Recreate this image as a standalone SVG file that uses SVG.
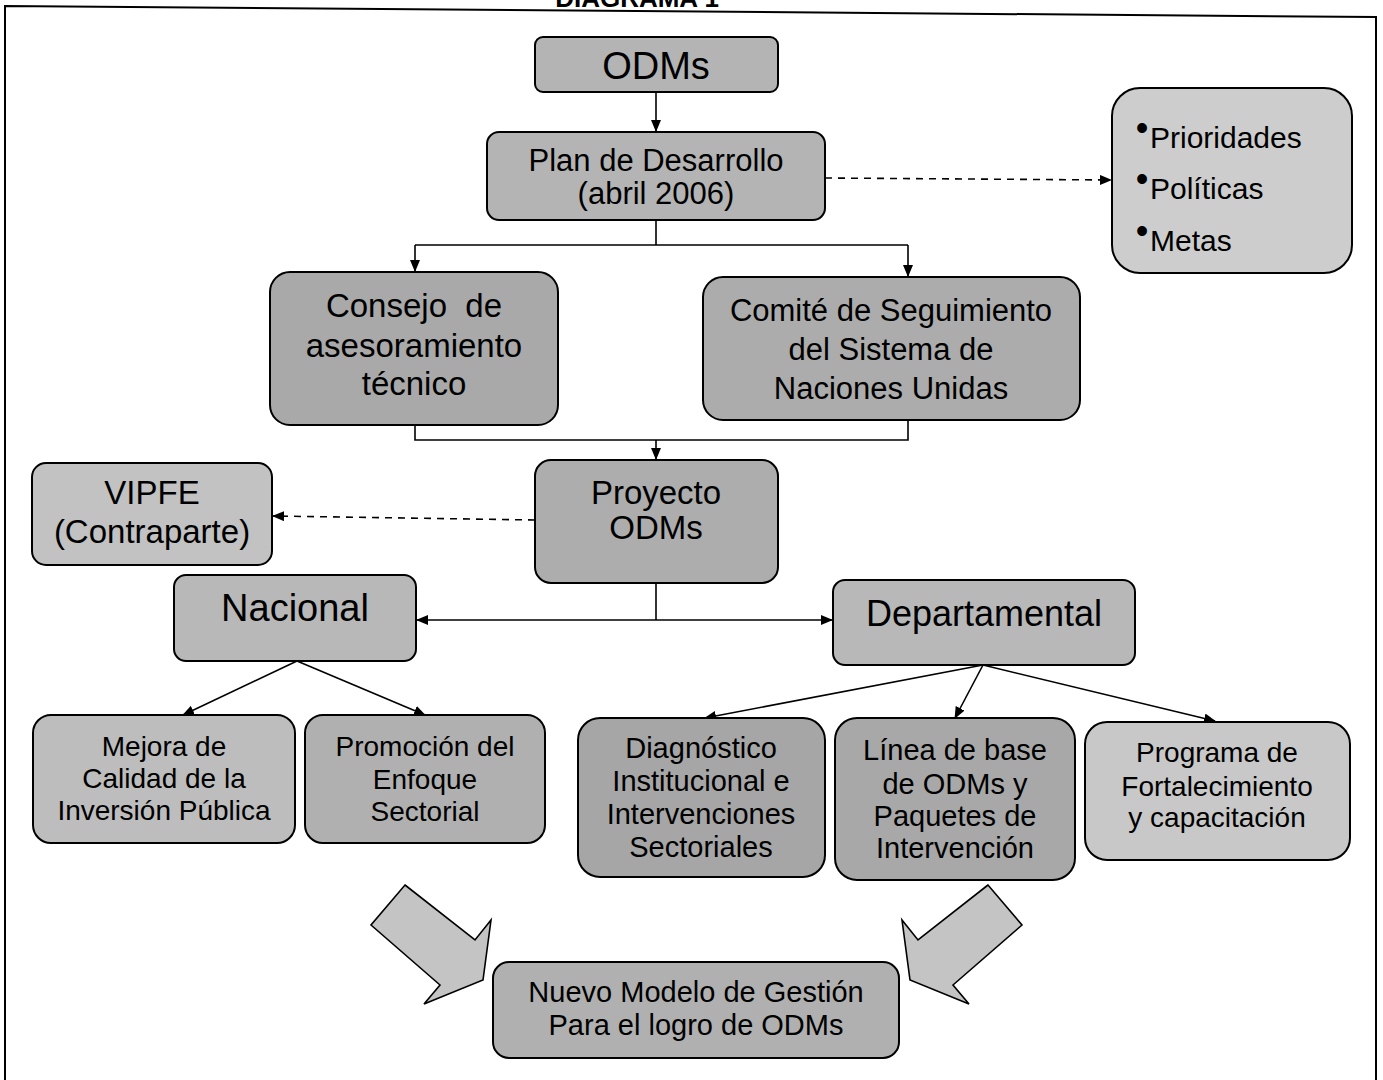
<svg xmlns="http://www.w3.org/2000/svg" width="1383" height="1080" viewBox="0 0 1383 1080">
<style>
  text{font-family:"Liberation Sans",Arial,sans-serif;fill:#000;text-anchor:middle}
  .box{stroke:#000;stroke-width:2}
  .ln{fill:none;stroke:#000;stroke-width:1.6}
  .dash{fill:none;stroke:#000;stroke-width:1.6;stroke-dasharray:7 6}
  .big{fill:#c4c4c4;stroke:#000;stroke-width:1.6;stroke-linejoin:miter}
  .bul{font-size:36px}
  .lst{font-size:30px;text-anchor:start}
</style>
<defs>
  <marker id="ah" markerUnits="userSpaceOnUse" markerWidth="12" markerHeight="10" refX="11" refY="5" orient="auto">
    <path d="M0,0 L12,5 L0,10 z" fill="#000"/>
  </marker>
</defs>
<rect width="1383" height="1080" fill="#fff"/>
<text x="637" y="7" font-size="26" font-weight="bold">DIAGRAMA 1</text>
<path d="M5,1080 L5,6 L1376,17 L1376,1080" fill="none" stroke="#000" stroke-width="2"/>

<g id="connectors">
  <path class="ln" d="M656,92 L656,131" marker-end="url(#ah)"/>
  <path class="ln" d="M656,220 L656,245 M415,245 L908,245"/>
  <path class="ln" d="M415,245 L415,271" marker-end="url(#ah)"/>
  <path class="ln" d="M908,245 L908,276" marker-end="url(#ah)"/>
  <path class="dash" d="M825,178 L1111,180" marker-end="url(#ah)"/>
  <path class="ln" d="M415,425 L415,440 L908,440 L908,420"/>
  <path class="ln" d="M656,440 L656,459" marker-end="url(#ah)"/>
  <path class="dash" d="M535,520 L273,516" marker-end="url(#ah)"/>
  <path class="ln" d="M656,583 L656,620"/>
  <path class="ln" d="M656,620 L417,620" marker-end="url(#ah)"/>
  <path class="ln" d="M656,620 L832,620" marker-end="url(#ah)"/>
  <path class="ln" d="M297,661 L183,715" marker-end="url(#ah)"/>
  <path class="ln" d="M297,661 L425,715" marker-end="url(#ah)"/>
  <path class="ln" d="M983,665 L705,718" marker-end="url(#ah)"/>
  <path class="ln" d="M983,665 L955,718" marker-end="url(#ah)"/>
  <path class="ln" d="M983,665 L1215,721" marker-end="url(#ah)"/>
</g>

<g id="n-odms">
  <rect class="box" x="535" y="37" width="243" height="55" rx="8" fill="#b4b4b4"/>
  <text x="656" y="79" font-size="38">ODMs</text>
</g>
<g id="n-plan">
  <rect class="box" x="487" y="132" width="338" height="88" rx="12" fill="#b4b4b4"/>
  <text x="656" y="171" font-size="31">Plan de Desarrollo</text>
  <text x="656" y="204" font-size="31">(abril 2006)</text>
</g>
<g id="n-prioridades">
  <rect class="box" x="1112" y="88" width="240" height="185" rx="28" fill="#cdcdcd"/>
  <text class="bul" x="1142" y="140">•</text>
  <text class="bul" x="1142" y="191">•</text>
  <text class="bul" x="1142" y="243">•</text>
  <text class="lst" x="1150" y="148">Prioridades</text>
  <text class="lst" x="1150" y="199">Políticas</text>
  <text class="lst" x="1150" y="251">Metas</text>
</g>
<g id="n-consejo">
  <rect class="box" x="270" y="272" width="288" height="153" rx="20" fill="#a9a9a9"/>
  <text x="414" y="317" font-size="33">Consejo&#160; de</text>
  <text x="414" y="357" font-size="33">asesoramiento</text>
  <text x="414" y="395" font-size="33">técnico</text>
</g>
<g id="n-comite">
  <rect class="box" x="703" y="277" width="377" height="143" rx="20" fill="#acacac"/>
  <text x="891" y="321" font-size="31">Comité de Seguimiento</text>
  <text x="891" y="360" font-size="31">del Sistema de</text>
  <text x="891" y="399" font-size="31">Naciones Unidas</text>
</g>
<g id="n-vipfe">
  <rect class="box" x="32" y="463" width="240" height="102" rx="14" fill="#c2c2c2"/>
  <text x="152" y="504" font-size="33">VIPFE</text>
  <text x="152" y="543" font-size="33">(Contraparte)</text>
</g>
<g id="n-proyecto">
  <rect class="box" x="535" y="460" width="243" height="123" rx="16" fill="#adadad"/>
  <text x="656" y="504" font-size="33">Proyecto</text>
  <text x="656" y="539" font-size="33">ODMs</text>
</g>
<g id="n-nacional">
  <rect class="box" x="174" y="575" width="242" height="86" rx="12" fill="#b8b8b8"/>
  <text x="295" y="621" font-size="38">Nacional</text>
</g>
<g id="n-departamental">
  <rect class="box" x="833" y="580" width="302" height="85" rx="12" fill="#b8b8b8"/>
  <text x="984" y="626" font-size="36">Departamental</text>
</g>
<g id="n-mejora">
  <rect class="box" x="33" y="715" width="262" height="128" rx="18" fill="#bdbdbd"/>
  <text x="164" y="756" font-size="28">Mejora de</text>
  <text x="164" y="788" font-size="28">Calidad de la</text>
  <text x="164" y="820" font-size="28">Inversión Pública</text>
</g>
<g id="n-promocion">
  <rect class="box" x="305" y="715" width="240" height="128" rx="18" fill="#b0b0b0"/>
  <text x="425" y="756" font-size="28">Promoción del</text>
  <text x="425" y="789" font-size="28">Enfoque</text>
  <text x="425" y="821" font-size="28">Sectorial</text>
</g>
<g id="n-diagnostico">
  <rect class="box" x="578" y="718" width="247" height="159" rx="22" fill="#a6a6a6"/>
  <text x="701" y="758" font-size="29">Diagnóstico</text>
  <text x="701" y="791" font-size="29">Institucional e</text>
  <text x="701" y="824" font-size="29">Intervenciones</text>
  <text x="701" y="857" font-size="29">Sectoriales</text>
</g>
<g id="n-linea">
  <rect class="box" x="835" y="718" width="240" height="162" rx="22" fill="#a8a8a8"/>
  <text x="955" y="760" font-size="29">Línea de base</text>
  <text x="955" y="794" font-size="29">de ODMs y</text>
  <text x="955" y="826" font-size="29">Paquetes de</text>
  <text x="955" y="858" font-size="29">Intervención</text>
</g>
<g id="n-programa">
  <rect class="box" x="1085" y="722" width="265" height="138" rx="22" fill="#c8c8c8"/>
  <text x="1217" y="762" font-size="28">Programa de</text>
  <text x="1217" y="796" font-size="28">Fortalecimiento</text>
  <text x="1217" y="827" font-size="28">y capacitación</text>
</g>
<g id="n-arrow-left">
  <polygon class="big" points="405,885 475,940 491,920 483,980 424,1004 440,985 371,925"/>
</g>
<g id="n-arrow-right">
  <polygon class="big" points="988,885 918,940 902,920 910,980 969,1004 953,985 1022,925"/>
</g>
<g id="n-nuevo">
  <rect class="box" x="493" y="962" width="406" height="96" rx="16" fill="#b0b0b0"/>
  <text x="696" y="1002" font-size="29">Nuevo Modelo de Gestión</text>
  <text x="696" y="1035" font-size="29">Para el logro de ODMs</text>
</g>
</svg>
